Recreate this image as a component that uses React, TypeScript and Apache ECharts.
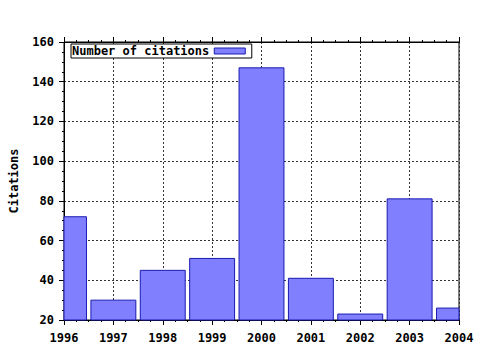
import React, { useEffect, useRef } from "react";
import * as echarts from "echarts";

const years = [1996, 1997, 1998, 1999, 2000, 2001, 2002, 2003, 2004];
const citations = [72, 30, 45, 51, 147, 41, 23, 81, 26];
const seriesName = "Number of citations";
const yAxisName = "Citations";

const FONT = "'DejaVu Sans Mono', 'Liberation Mono', monospace";
const BAR_FILL = "#8080ff";
const BAR_BORDER = "#1a1ab0";

export default function App() {
  const ref = useRef<HTMLDivElement>(null);
  useEffect(() => {
    if (!ref.current) return;
    const chart = echarts.init(ref.current, undefined, { renderer: "svg" });
    const data = years.map((y, i) => [y, citations[i]]);
    chart.setOption({
      animation: false,
      backgroundColor: "#ffffff",
      grid: {
        left: 63,
        right: 21,
        top: 42,
        bottom: 30,
        show: true,
        borderColor: "#000",
        borderWidth: 1,
        backgroundColor: "transparent",
      },
      legend: {
        left: 71,
        top: 44,
        align: "right",
        orient: "horizontal",
        backgroundColor: "#fff",
        borderColor: "#000",
        borderWidth: 1,
        borderRadius: 0,
        padding: [1, 6, 1, 1],
        itemWidth: 31,
        itemHeight: 6,
        data: [
          {
            name: seriesName,
            icon: "rect",
            itemStyle: { color: BAR_FILL, borderColor: BAR_BORDER, borderWidth: 1 },
          },
        ],
        textStyle: {
          fontFamily: FONT,
          fontWeight: "bold",
          fontSize: 12,
          color: "#000",
          lineHeight: 12,
        },
      },
      xAxis: [
        {
          type: "value",
          min: 1996,
          max: 2004,
          interval: 1,
          axisLine: { show: true, onZero: false, lineStyle: { color: "#000", width: 1 } },
          axisTick: { show: true, length: 5, lineStyle: { color: "#000" } },
          minorTick: { show: true, splitNumber: 4, length: 2, lineStyle: { color: "#000" } },
          axisLabel: {
            fontFamily: FONT,
            fontWeight: "bold",
            fontSize: 12,
            color: "#000",
            margin: 12,
            formatter: (v: number) => String(v),
          },
          splitLine: {
            show: true,
            lineStyle: { color: "#333", type: [2, 2], width: 1 },
          },
        },
        {
          type: "value",
          position: "top",
          min: 1996,
          max: 2004,
          interval: 1,
          axisLine: { show: true, onZero: false, lineStyle: { color: "#000", width: 1 } },
          axisTick: { show: true, length: 5, lineStyle: { color: "#000" } },
          minorTick: { show: true, splitNumber: 4, length: 2, lineStyle: { color: "#000" } },
          axisLabel: { show: false },
          splitLine: { show: false },
        },
      ],
      yAxis: {
        type: "value",
        min: 20,
        max: 160,
        interval: 20,
        name: yAxisName,
        nameLocation: "middle",
        nameGap: 44,
        nameTextStyle: {
          fontFamily: FONT,
          fontWeight: "bold",
          fontSize: 12,
          color: "#000",
        },
        axisLine: { show: true, onZero: false, lineStyle: { color: "#000", width: 1 } },
        axisTick: { show: true, length: 5, lineStyle: { color: "#000" } },
        minorTick: { show: true, splitNumber: 4, length: 2, lineStyle: { color: "#000" } },
        axisLabel: {
          fontFamily: FONT,
          fontWeight: "bold",
          fontSize: 12,
          color: "#000",
          margin: 10,
        },
        splitLine: {
          show: true,
          lineStyle: { color: "#333", type: [2, 2], width: 1 },
        },
      },
      series: [
        {
          name: seriesName,
          type: "custom",
          xAxisIndex: 0,
          yAxisIndex: 0,
          data,
          encode: { x: 0, y: 1 },
          z: 1,
          renderItem: (params: any, api: any) => {
            const x = api.value(0);
            const y = api.value(1);
            const top = api.coord([x, y]);
            const base = api.coord([x, 20]);
            const unit = api.size([1, 0])[0];
            const w = unit * 0.91;
            const rect = echarts.graphic.clipRectByRect(
              { x: top[0] - w / 2, y: top[1], width: w, height: base[1] - top[1] },
              {
                x: params.coordSys.x,
                y: params.coordSys.y,
                width: params.coordSys.width,
                height: params.coordSys.height,
              }
            );
            if (!rect) return null;
            return {
              type: "rect",
              shape: rect,
              style: { fill: BAR_FILL, stroke: BAR_BORDER, lineWidth: 1 },
            };
          },
        },
      ],
    });
    return () => chart.dispose();
  }, []);
  return (
    <div
      ref={ref}
      style={{ position: "fixed", left: 0, top: 0, width: 480, height: 350 }}
    />
  );
}
